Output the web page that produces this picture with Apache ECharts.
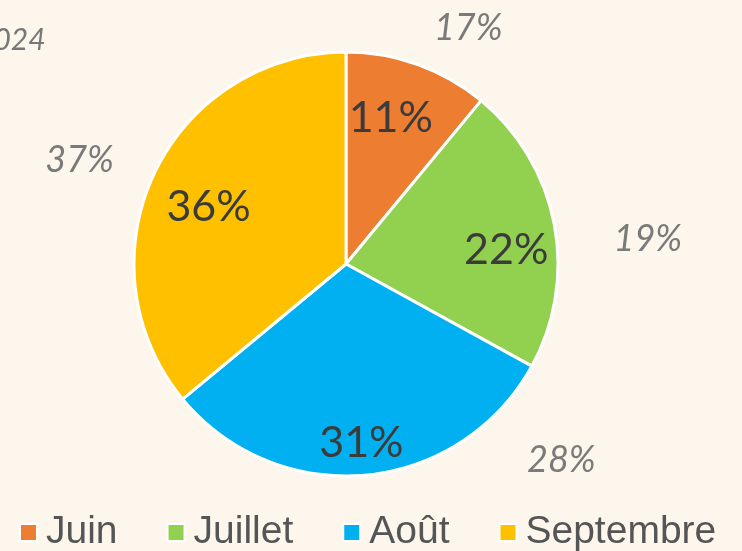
<!DOCTYPE html>
<html>
<head>
<meta charset="utf-8">
<script src="https://cdn.jsdelivr.net/npm/echarts@6/dist/echarts.min.js"></script>
<style>
  html, body { margin: 0; padding: 0; background: #fcf6ec; }
  #chart { width: 742px; height: 551px; }
</style>
</head>
<body>
<div id="chart"></div>
<script>
// months, shares this year, shares last year (grey italic labels)
const months = ['Juin', 'Juillet', 'Août', 'Septembre'];
const shares = [11, 22, 31, 36];
const prevShares = [17, 19, 28, 37];
const colors = ['#ed7d31', '#92d050', '#00b0f0', '#ffc000'];
const titleText = '2024';

// small nudges for the labels, in pixels
const innerNudge = [[-7, -2], [10, 15], [1, 27], [1, 8]];
const outerNudge = [[24, 37], [17, 30], [188, -92], [-4, 20]];

const chart = echarts.init(document.getElementById('chart'));

const center = [346, 264];
const labelFont = 'Lato, "DejaVu Sans", sans-serif';

const option = {
  backgroundColor: '#fcf6ec',
  animation: false,
  color: colors,
  title: {
    text: titleText,
    left: -29,
    top: 20,
    textStyle: {
      fontFamily: labelFont,
      fontStyle: 'italic',
      fontWeight: 'normal',
      fontSize: 30,
      color: '#777'
    }
  },
  legend: {
    data: months,
    left: 14,
    top: 508,
    icon: 'rect',
    itemWidth: 17,
    itemHeight: 17,
    itemGap: 49,
    textStyle: {
      fontFamily: '"Liberation Sans", Arial, sans-serif',
      fontSize: 39,
      color: '#555',
      padding: [0, 0, 0, 4]
    }
  },
  series: [
    {
      // the pie itself
      name: 'parts',
      type: 'pie',
      center: center,
      radius: [0, 212],
      startAngle: 90,
      clockwise: true,
      silent: true,
      label: { show: false },
      labelLine: { show: false },
      itemStyle: { borderColor: '#ffffff', borderWidth: 3 },
      data: months.map((m, i) => ({ name: m, value: shares[i] }))
    },
    {
      // invisible ring used only to place the inner labels
      name: 'inner labels',
      type: 'pie',
      center: center,
      radius: [0, 300],
      startAngle: 90,
      silent: true,
      legendHoverLink: false,
      itemStyle: { color: 'transparent' },
      label: {
        show: true,
        position: 'inside',
        formatter: p => shares[p.dataIndex] + '%',
        fontFamily: labelFont,
        fontSize: 43,
        color: '#3b3b3b'
      },
      labelLayout: p => ({ dx: innerNudge[p.dataIndex][0], dy: innerNudge[p.dataIndex][1] }),
      labelLine: { show: false },
      data: months.map((m, i) => ({ name: m + ' ', value: shares[i] }))
    },
    {
      // invisible ring for last year's values
      name: 'prev labels',
      type: 'pie',
      center: center,
      radius: [0, 574],
      startAngle: 90,
      silent: true,
      legendHoverLink: false,
      itemStyle: { color: 'transparent' },
      label: {
        show: true,
        position: 'inside',
        formatter: p => prevShares[p.dataIndex] + '%',
        fontFamily: labelFont,
        fontStyle: 'italic',
        fontSize: 36,
        color: '#7a7a7a'
      },
      labelLayout: p => ({ dx: outerNudge[p.dataIndex][0], dy: outerNudge[p.dataIndex][1] }),
      labelLine: { show: false },
      data: months.map((m, i) => ({ name: m + '  ', value: shares[i] }))
    }
  ]
};

chart.setOption(option);
window.addEventListener('resize', () => chart.resize());
</script>
</body>
</html>
